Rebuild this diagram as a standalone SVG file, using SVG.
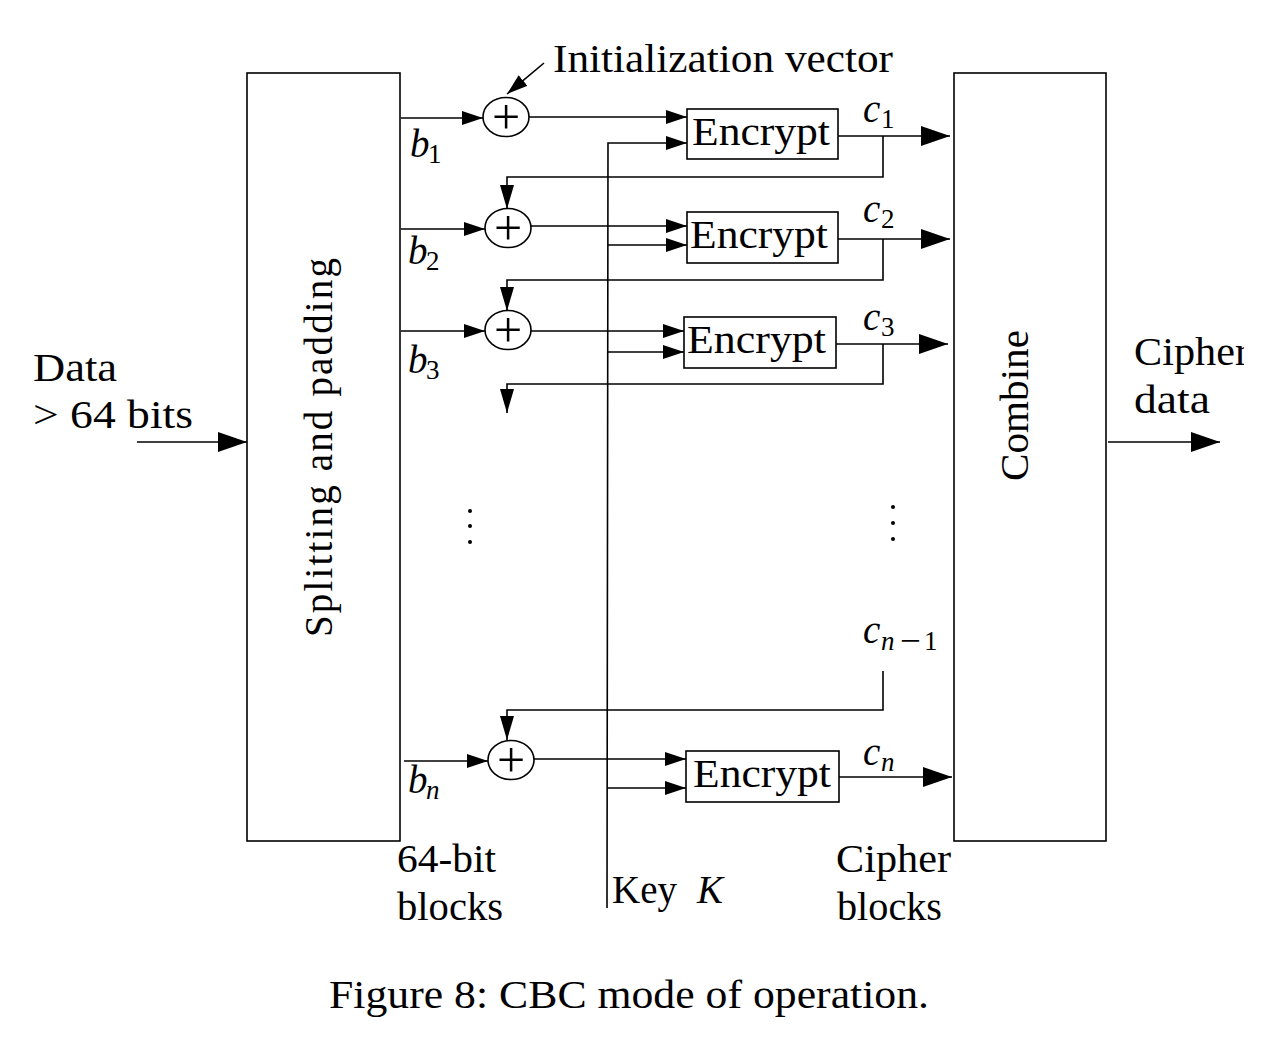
<svg xmlns="http://www.w3.org/2000/svg" width="1275" height="1038" viewBox="0 0 1275 1038">
<style>
text{font-family:"Liberation Serif","Times New Roman",serif;fill:#000;font-size:39px;font-variant-ligatures:none}
.it{font-style:italic}
.sub{font-size:27px}
.box{fill:#fff;stroke:#000;stroke-width:1.6}
.xor{fill:#fff;stroke:#000;stroke-width:1.6}
.ln{fill:none;stroke:#000;stroke-width:1.6}
.plus{font-size:50px;text-anchor:middle}
</style>
<defs>
<marker id="ah" viewBox="0 0 21 14" refX="21" refY="7" markerWidth="21" markerHeight="14" orient="auto" markerUnits="userSpaceOnUse"><path d="M0,0 L21,7 L0,14 z" fill="#000"/></marker>
<marker id="ahF" viewBox="0 0 24 14" refX="24" refY="7" markerWidth="24" markerHeight="14" orient="auto" markerUnits="userSpaceOnUse"><path d="M0,0 L24,7 L0,14 z" fill="#000"/></marker>
<marker id="ahB" viewBox="0 0 29 20" refX="29" refY="10" markerWidth="29" markerHeight="20" orient="auto" markerUnits="userSpaceOnUse"><path d="M0,0 L29,10 L0,20 z" fill="#000"/></marker>
<clipPath id="clipR"><rect x="0" y="0" width="1244" height="1038"/></clipPath>
</defs>
<rect width="1275" height="1038" fill="#fff"/>

<g id="connectors">
<line class="ln" x1="137" y1="442" x2="247" y2="442" marker-end="url(#ahB)"/>
<line class="ln" x1="1108" y1="442" x2="1220" y2="442" marker-end="url(#ahB)"/>
<line class="ln" x1="544" y1="63" x2="507" y2="94" marker-end="url(#ah)"/>
<polyline class="ln" points="607,908 608,143 687,143" marker-end="url(#ah)"/>
<line class="ln" x1="608" y1="245" x2="687" y2="245" marker-end="url(#ah)"/>
<line class="ln" x1="608" y1="352" x2="684" y2="352" marker-end="url(#ah)"/>
<line class="ln" x1="607.5" y1="788" x2="686" y2="788" marker-end="url(#ah)"/>
<line class="ln" x1="401" y1="118" x2="483" y2="118" marker-end="url(#ah)"/>
<line class="ln" x1="401" y1="229" x2="485" y2="229" marker-end="url(#ah)"/>
<line class="ln" x1="401" y1="331" x2="485" y2="331" marker-end="url(#ah)"/>
<line class="ln" x1="404" y1="761" x2="488" y2="761" marker-end="url(#ah)"/>
<line class="ln" x1="529" y1="117" x2="687" y2="117" marker-end="url(#ah)"/>
<line class="ln" x1="531" y1="226" x2="687" y2="226" marker-end="url(#ah)"/>
<line class="ln" x1="531" y1="331" x2="684" y2="331" marker-end="url(#ah)"/>
<line class="ln" x1="534" y1="759" x2="686" y2="759" marker-end="url(#ah)"/>
<line class="ln" x1="838" y1="136" x2="950" y2="136" marker-end="url(#ahB)"/>
<line class="ln" x1="838" y1="239" x2="950" y2="239" marker-end="url(#ahB)"/>
<line class="ln" x1="836" y1="344" x2="948" y2="344" marker-end="url(#ahB)"/>
<line class="ln" x1="839" y1="777" x2="952" y2="777" marker-end="url(#ahB)"/>
<polyline class="ln" points="883,136 883,177 507,177 507,209" marker-end="url(#ahF)"/>
<polyline class="ln" points="883,239 883,280 507,280 507,311" marker-end="url(#ahF)"/>
<polyline class="ln" points="883,344 883,384 507,384 507,413" marker-end="url(#ahF)"/>
<polyline class="ln" points="883,671 883,710 507,710 507,740" marker-end="url(#ahF)"/>
</g>

<g id="split">
<rect class="box" x="247" y="73" width="153" height="768"/>
<text transform="translate(332,447.5) rotate(-90)" text-anchor="middle" textLength="379" lengthAdjust="spacing">Splitting and padding</text>
</g>
<g id="combine">
<rect class="box" x="954" y="73" width="152" height="768"/>
<text transform="translate(1028,405.5) rotate(-90)" text-anchor="middle" textLength="151" lengthAdjust="spacingAndGlyphs">Combine</text>
</g>

<g id="xor1"><ellipse class="xor" cx="506" cy="117" rx="23" ry="19.5"/><text class="plus" x="506" y="134">+</text></g>
<g id="xor2"><ellipse class="xor" cx="508" cy="228" rx="23" ry="19.5"/><text class="plus" x="508" y="245">+</text></g>
<g id="xor3"><ellipse class="xor" cx="508" cy="330" rx="23" ry="19.5"/><text class="plus" x="508" y="347">+</text></g>
<g id="xorn"><ellipse class="xor" cx="511" cy="760" rx="23" ry="19.5"/><text class="plus" x="511" y="777">+</text></g>

<g id="enc1"><rect class="box" x="687" y="109" width="151" height="50"/><text x="692" y="145" textLength="138" lengthAdjust="spacingAndGlyphs">Encrypt</text></g>
<g id="enc2"><rect class="box" x="687" y="212" width="151" height="51"/><text x="690" y="248" textLength="138" lengthAdjust="spacingAndGlyphs">Encrypt</text></g>
<g id="enc3"><rect class="box" x="684" y="317" width="152" height="51"/><text x="687" y="353" textLength="139" lengthAdjust="spacingAndGlyphs">Encrypt</text></g>
<g id="encn"><rect class="box" x="686" y="751" width="153" height="51"/><text x="693" y="787" textLength="138" lengthAdjust="spacingAndGlyphs">Encrypt</text></g>

<g id="labels">
<text x="553" y="72" textLength="340" lengthAdjust="spacingAndGlyphs">Initialization vector</text>
<text x="33" y="381" textLength="84" lengthAdjust="spacingAndGlyphs">Data</text>
<text x="33" y="428" textLength="160" lengthAdjust="spacingAndGlyphs">&gt; 64 bits</text>
<g clip-path="url(#clipR)">
<text x="1134" y="365" textLength="115" lengthAdjust="spacingAndGlyphs">Cipher</text>
</g>
<text x="1134" y="413" textLength="76" lengthAdjust="spacingAndGlyphs">data</text>
<text x="397" y="872" textLength="99" lengthAdjust="spacingAndGlyphs">64-bit</text>
<text x="397" y="920" textLength="106" lengthAdjust="spacingAndGlyphs">blocks</text>
<text x="836" y="872" textLength="115" lengthAdjust="spacingAndGlyphs">Cipher</text>
<text x="837" y="920" textLength="105" lengthAdjust="spacingAndGlyphs">blocks</text>
<text x="612" y="903">Key <tspan class="it" x="697">K</tspan></text>

<text class="it" x="410" y="157">b<tspan class="sub" font-style="normal" x="428" y="163">1</tspan></text>
<text class="it" x="408" y="264">b<tspan class="sub" font-style="normal" x="426" y="270">2</tspan></text>
<text class="it" x="408" y="373">b<tspan class="sub" font-style="normal" x="426" y="379">3</tspan></text>
<text class="it" x="408" y="793">b<tspan class="sub" x="426" y="799">n</tspan></text>

<text class="it" x="863" y="122">c<tspan class="sub" font-style="normal" x="881" y="128">1</tspan></text>
<text class="it" x="863" y="222">c<tspan class="sub" font-style="normal" x="881" y="228">2</tspan></text>
<text class="it" x="863" y="330">c<tspan class="sub" font-style="normal" x="881" y="336">3</tspan></text>
<text class="it" x="863" y="765">c<tspan class="sub" x="881" y="771">n</tspan></text>
<text class="it" x="863" y="643">c<tspan class="sub" x="881" y="650">n</tspan><tspan font-style="normal" font-size="37" x="900" y="653">−</tspan><tspan class="sub" font-style="normal" x="924" y="650">1</tspan></text>

<text x="329" y="1008" textLength="600" lengthAdjust="spacingAndGlyphs">Figure 8: CBC mode of operation.</text>
</g>

<g id="dots" fill="#000">
<circle cx="470" cy="511" r="2"/><circle cx="470" cy="526" r="2"/><circle cx="470" cy="542" r="2"/>
<circle cx="893" cy="507" r="2"/><circle cx="893" cy="523" r="2"/><circle cx="893" cy="539" r="2"/>
</g>
</svg>
